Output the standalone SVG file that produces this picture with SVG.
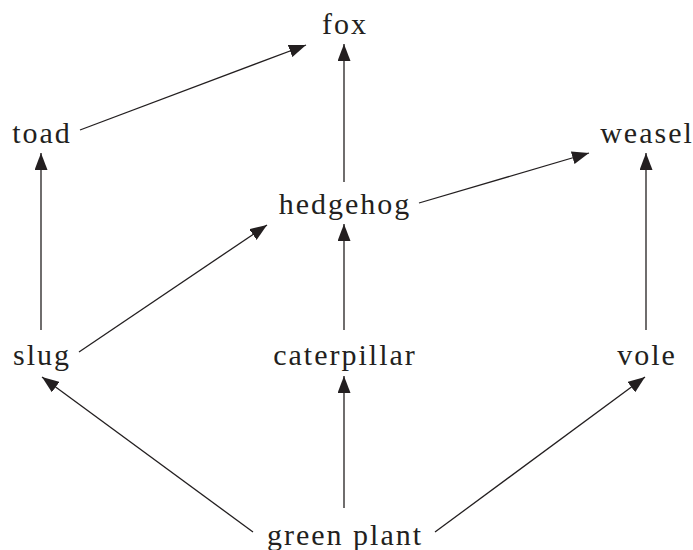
<svg xmlns="http://www.w3.org/2000/svg" width="693" height="550" viewBox="0 0 693 550">
  <style>
    .label { font-family: "Liberation Serif", "DejaVu Serif", serif; font-size: 30px; fill: #231f20; text-anchor: middle; letter-spacing: 2px; }
    .link { stroke: #231f20; stroke-width: 1.3; fill: none; marker-end: url(#arrow); }
  </style>
  <defs>
    <marker id="arrow" markerUnits="userSpaceOnUse" markerWidth="17" markerHeight="13" refX="17" refY="6.5" orient="auto">
      <path d="M0,0 L17,6.5 L0,13 Z" fill="#231f20"/>
    </marker>
  </defs>
  <rect width="693" height="550" fill="#ffffff"/>

  <g id="connectors">
    <line class="link" x1="80" y1="130" x2="306" y2="45"/>
    <line class="link" x1="344" y1="182" x2="344" y2="44"/>
    <line class="link" x1="419" y1="203" x2="589" y2="153"/>
    <line class="link" x1="41" y1="330" x2="41" y2="153"/>
    <line class="link" x1="79" y1="352" x2="267" y2="225"/>
    <line class="link" x1="344" y1="330" x2="344" y2="224"/>
    <line class="link" x1="646" y1="330" x2="646" y2="153"/>
    <line class="link" x1="253" y1="532" x2="42" y2="377"/>
    <line class="link" x1="344" y1="508" x2="344" y2="376"/>
    <line class="link" x1="435" y1="532" x2="645" y2="377"/>
  </g>

  <g id="fox"><text class="label" x="345" y="34">fox</text></g>
  <g id="toad"><text class="label" x="42" y="143">toad</text></g>
  <g id="weasel"><text class="label" x="647" y="143">weasel</text></g>
  <g id="hedgehog"><text class="label" x="345" y="214">hedgehog</text></g>
  <g id="slug"><text class="label" x="42" y="365">slug</text></g>
  <g id="caterpillar"><text class="label" x="345" y="365">caterpillar</text></g>
  <g id="vole"><text class="label" x="647" y="365">vole</text></g>
  <g id="green-plant"><text class="label" x="345" y="545">green plant</text></g>
</svg>
